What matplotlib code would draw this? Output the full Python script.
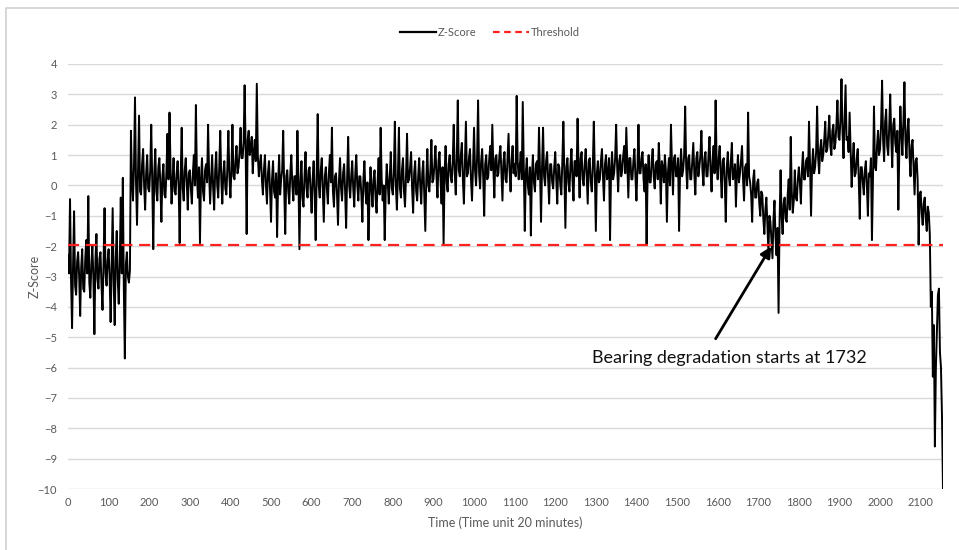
import numpy as np
import matplotlib.pyplot as plt
from matplotlib.lines import Line2D

# z-score, one value every 2.5 time units,
# one list per 100 time units
z_0000 = [-2.3, -2.9, -0.45, -3.1, -4.7, -2.6, -0.85, -3.3, -3.6, -2.5,
          -2.2, -3.0, -4.3, -2.7, -2.1, -3.4, -3.5, -2.4, -1.8, -2.9,
          -0.35, -3.2, -3.7, -2.6, -2.0, -3.0, -4.9, -2.5, -1.6, -3.1,
          -3.4, -2.4, -2.2, -3.3, -4.1, -2.6, -0.75, -2.9, -3.3, -2.5]
z_0100 = [-2.1, -3.0, -4.5, -2.6, -0.75, -3.2, -4.6, -2.4, -1.5, -3.1,
          -3.9, -2.5, -0.4, -2.9, 0.25, -3.4, -5.7, -2.6, -2.2, -3.0,
          -3.2, -2.8, 1.8, 0.2, -0.5, 0.6, 2.9, 0.1, -1.3, 0.5,
          2.3, -0.2, -0.3, 0.7, 1.2, 0.0, -0.8, 0.4, 1.0, -0.1]
z_0200 = [-0.2, 0.5, 2.0, 0.1, -2.1, 0.4, 1.2, -0.2, -0.5, 0.6,
          0.9, 0.0, -1.2, 0.3, 0.7, -0.3, -0.4, 0.5, 1.7, 0.2,
          2.4, 0.6, -0.6, 0.1, 0.9, -0.2, -0.3, 0.4, 0.8, 0.0,
          -1.9, 0.3, 1.9, -0.1, -0.5, 0.5, 0.9, 0.1, -0.8, 0.4]
z_0300 = [0.5, -0.1, -0.6, 0.4, 1.0, 0.0, 2.65, 0.3, -0.4, 0.6,
          -1.9, 0.2, 0.9, -0.2, -0.5, 0.5, 0.7, 0.1, 2.0, 0.4,
          -0.6, 0.2, 1.0, -0.1, -0.8, 0.5, 1.1, 0.0, -0.4, 0.6,
          1.8, 0.2, -0.6, 0.4, 0.8, -0.1, -0.3, 0.6, 1.8, 0.3]
z_0400 = [-0.4, 0.5, 2.0, 0.3, 0.2, 0.8, 1.3, 0.4, 0.6, 1.1,
          1.9, 0.9, 0.9, 1.4, 3.3, 1.2, -1.6, 1.5, 1.8, 1.0,
          1.2, 1.6, 0.4, 1.1, 1.5, 0.8, 3.35, 1.0, 0.3, 0.7,
          1.0, 0.2, -0.3, 0.5, 1.0, 0.0, -0.6, 0.4, 0.8, -0.1]
z_0500 = [-1.2, 0.2, 0.8, -0.2, -0.4, 0.4, -1.7, 0.1, 1.0, -0.3,
          0.2, 0.5, 1.8, -0.1, -1.6, 0.3, 0.5, -0.2, -0.6, 0.4,
          1.0, 0.0, -0.5, 0.3, 0.3, -0.3, 1.8, 0.2, -2.1, 0.1,
          0.8, -0.4, -0.7, 0.3, 1.1, -0.1, -0.4, 0.5, 0.6, -0.2]
z_0600 = [-0.9, 0.2, 0.8, -0.3, -1.8, 0.4, 2.35, 0.0, -0.4, 0.5,
          0.9, -0.2, -1.2, 0.3, 0.6, -0.1, -0.6, 0.4, 1.0, 0.1,
          1.9, -0.2, -0.7, 0.3, 0.4, -0.3, -1.3, 0.2, 0.9, -0.1,
          -0.5, 0.4, 0.7, -0.2, -1.4, 0.3, 1.6, 0.0, -0.4, 0.3]
z_0700 = [0.8, -0.1, -0.7, 0.4, 1.0, 0.0, -0.5, 0.3, 0.3, -0.3,
          -1.2, 0.2, 0.8, -0.2, -0.6, 0.1, -1.8, -0.4, 0.6, -0.1,
          -0.7, 0.2, 0.5, -0.4, -0.9, 0.1, 0.9, -0.3, 1.9, 0.2,
          -0.5, 0.0, -1.8, -0.2, 0.7, 0.1, -0.6, 0.3, 1.1, -0.1]
z_0800 = [-0.3, 0.4, 2.1, 0.0, -0.8, 0.3, 1.9, -0.1, -0.4, 0.5,
          0.9, -0.2, -0.7, 0.3, 1.7, 0.1, 0.2, 0.6, 1.1, -0.1,
          -0.9, 0.4, 0.8, -0.2, -0.5, 0.3, 0.9, 0.0, -0.6, 0.4,
          0.8, -0.3, -1.5, 0.2, 1.2, 0.0, -0.2, 0.5, 1.5, 0.1]
z_0900 = [0.2, 0.7, 1.3, 0.3, -0.4, 0.8, 1.1, 0.2, -0.6, 0.6,
          -1.95, 0.4, 1.3, 0.1, -0.2, 0.7, 1.0, 0.3, 0.1, 0.8,
          2.0, 0.4, -0.3, 0.9, 2.8, 0.5, 0.3, 1.0, 1.4, 0.2,
          -0.6, 0.7, 2.1, 0.3, 0.4, 0.9, 1.2, 0.2, -0.5, 0.6]
z_1000 = [1.9, 0.5, 0.0, 0.9, 2.8, 0.4, -0.1, 0.8, 1.2, 0.3,
          -1.0, 0.7, 1.0, 0.2, 0.3, 0.9, 1.3, 0.5, 2.0, 0.6,
          -0.4, 0.9, 1.0, 0.3, 0.4, 1.0, 1.3, 0.4, -0.5, 0.8,
          1.1, 0.2, 0.1, 0.9, 1.7, 0.5, -0.2, 0.8, 1.3, 0.4]
z_1100 = [0.7, 0.3, 2.95, 0.8, 0.2, 0.6, 1.1, 0.2, 2.75, 0.7,
          -1.5, 0.4, 0.9, 0.0, -0.3, 0.6, -1.65, 0.3, 1.0, 0.1,
          -0.2, 0.7, 0.8, 0.2, 1.9, 0.5, -1.2, 0.6, 1.9, 0.3,
          0.0, 0.8, 1.1, 0.2, -0.6, 0.7, 0.7, 0.1, -0.1, 0.6]
z_1200 = [1.1, 0.2, -0.6, 0.7, 0.6, 0.0, -0.3, 0.8, 2.1, 0.3,
          -1.4, 0.6, 0.9, 0.1, -0.2, 0.7, 1.2, 0.2, -0.5, 0.8,
          0.8, 0.3, 2.2, 0.6, -0.4, 0.9, 1.1, 0.2, 0.0, 0.7,
          1.2, 0.3, -0.6, 0.8, 0.9, 0.1, -0.2, 0.6, 2.1, 0.4]
z_1300 = [-1.5, 0.4, 0.8, 0.1, 0.2, 0.8, 1.2, 0.3, -0.5, 0.7,
          1.0, 0.2, 0.3, 0.9, -1.8, 0.5, 1.1, 0.2, 0.4, 0.9,
          2.0, 0.6, -0.2, 0.8, 1.0, 0.3, 0.5, 1.0, 1.3, 0.4,
          1.9, 0.7, -0.4, 0.9, 0.9, 0.2, 0.2, 0.8, 1.2, 0.3]
z_1400 = [-0.5, 0.6, 2.0, 0.4, 0.4, 0.9, 1.1, 0.2, -0.2, 0.7,
          -1.95, 0.3, 1.0, 0.1, 0.1, 0.8, 1.2, 0.3, -0.1, 0.7,
          0.8, 0.2, 1.4, 0.6, -0.6, 0.8, 0.6, 0.1, 1.0, 0.5,
          -1.2, 0.4, 0.9, 0.0, 2.0, 0.7, -0.3, 0.9, 1.0, 0.3]
z_1500 = [0.3, 0.9, -1.5, 0.5, 1.2, 0.3, 0.5, 1.0, 2.6, 0.6,
          -0.1, 0.9, 1.0, 0.2, 0.2, 0.8, 1.4, 0.4, -0.3, 0.9,
          1.1, 0.3, 0.6, 1.0, 1.8, 0.5, 0.0, 0.9, 1.1, 0.3,
          0.3, 1.0, 1.6, 0.5, -0.2, 0.8, 1.3, 0.4, 2.8, 0.7]
z_1600 = [0.2, 0.9, 1.3, 0.4, -0.4, 0.8, 0.9, 0.1, -1.2, 0.6,
          1.1, 0.3, 0.0, 0.8, 1.4, 0.2, 0.3, 0.7, -0.7, 0.4,
          1.0, 0.1, 0.4, 0.8, 1.3, 0.2, -0.5, 0.6, 0.7, 0.0,
          2.4, 0.3, 0.1, -0.3, -1.2, 0.2, 0.5, -0.4, -0.4, 0.1]
z_1700 = [0.2, -0.6, -1.0, -0.2, -0.3, -1.1, -1.6, -0.8, -0.4, -1.3,
          -2.2, -1.0, -1.2, -1.8, -2.4, -1.1, -0.5, -1.7, -2.3, -1.4,
          -4.2, -1.2, 0.5, -1.0, -1.6, -0.6, -0.4, -1.1, -1.2, -0.3,
          0.2, -0.8, 1.6, -0.2, -0.9, -0.5, 0.5, -0.4, -0.5, 0.2]
z_1800 = [0.6, 0.1, -0.6, 0.5, 1.1, 0.2, 0.2, 0.8, 0.9, 0.3,
          2.1, 0.7, -1.0, 0.6, 1.2, 0.4, 0.6, 1.1, 2.6, 0.9,
          0.4, 1.2, 1.5, 0.8, 1.0, 1.5, 2.1, 1.1, 1.2, 1.7,
          2.3, 1.3, 1.0, 1.8, 2.0, 1.2, 1.4, 2.0, 2.8, 1.6]
z_1900 = [1.5, 2.2, 3.5, 1.8, 0.9, 2.1, 3.3, 1.5, 1.6, 1.1,
          2.4, 1.2, -0.05, 0.8, 1.4, 0.3, 0.4, 0.9, 1.2, 0.2,
          -1.1, 0.6, 0.6, 0.1, -0.3, 0.5, 0.8, 0.0, -1.0, 0.4,
          0.3, 0.9, -1.8, 0.2, 2.6, 0.6, 0.5, 1.3, 1.8, 1.0]
z_2000 = [1.2, 2.0, 3.45, 1.5, 0.8, 2.1, 2.5, 1.3, 1.0, 1.9,
          3.0, 1.6, 0.6, 2.0, 2.2, 1.4, 1.1, 1.8, -0.8, 1.2,
          2.6, 1.7, 1.0, 2.1, 3.4, 1.5, 0.9, 1.8, 2.2, 1.0,
          0.3, 1.3, 1.5, 0.6, -0.3, 0.8, 0.9, 0.2, -1.95, -0.3]
z_2100 = [-0.2, -0.9, -1.3, -0.6, -0.4, -1.1, -1.5, -0.7, -0.9, -1.6,
          -4.0, -3.5, -6.3, -4.6, -8.6, -6.0, -4.8, -3.6, -3.4, -5.5,
          -6.0, -7.6, -10.0]

threshold = -1.96
annotation_text = "Bearing degradation starts at 1732"
start_time = 1732

blocks = [z_0000, z_0100, z_0200, z_0300, z_0400, z_0500, z_0600, z_0700,
          z_0800, z_0900, z_1000, z_1100, z_1200, z_1300, z_1400, z_1500,
          z_1600, z_1700, z_1800, z_1900, z_2000, z_2100]
z = np.concatenate(blocks)
t = np.concatenate([100 * i + 2.5 * np.arange(len(b))
                    for i, b in enumerate(blocks)])

plt.rcParams['font.family'] = ['Lato', 'DejaVu Sans']
grey = '#595959'

fig = plt.figure(figsize=(9.59, 5.5), dpi=100)
ax = fig.add_axes([68 / 959, 61 / 550, 875 / 959, 425 / 550])

ax.plot(t, z, color='black', lw=1.4, label='Z-Score', zorder=3)
ax.axhline(threshold, color='#ff2020', lw=1.6, ls=(0, (5, 3)), zorder=4,
           label='Threshold')

ax.set_xlim(0, t[-1])
ax.set_ylim(-10, 4)
ax.set_xticks(np.arange(0, 2101, 100))
ax.set_yticks(np.arange(-10, 5, 1))
ax.grid(axis='y', color='#d9d9d9', lw=1)
ax.set_axisbelow(True)
for s in ax.spines.values():
    s.set_visible(False)
ax.tick_params(length=0, labelsize=8, labelcolor=grey, pad=6)
ax.tick_params(axis='y', pad=8)

ax.set_xlabel('Time (Time unit 20 minutes)', fontsize=9, color=grey,
              labelpad=6)
ax.set_ylabel('Z-Score', fontsize=9, color=grey)
ax.yaxis.set_label_coords(-0.031, 0.5)

ax.annotate('', xy=(start_time, threshold - 0.05), xytext=(1595, -5.05),
            arrowprops=dict(arrowstyle='-|>', color='black', lw=2,
                            mutation_scale=16, shrinkA=0, shrinkB=0),
            zorder=5)
ax.text(1630, -5.7, annotation_text, fontsize=13, ha='center',
        va='center', color='#111111')

handles = [Line2D([], [], color='black', lw=1.6),
           Line2D([], [], color='#ff2020', lw=1.6, ls=(0, (3, 2)))]
fig.legend(handles, ['Z-Score', 'Threshold'], loc='center',
           bbox_to_anchor=(490 / 959, 1 - 32 / 550), ncol=2, frameon=False,
           fontsize=8, labelcolor=grey, handlelength=3.2, handletextpad=0.2,
           columnspacing=1.5)

# thin frame of the chart area
fig.add_artist(Line2D([6 / 959, 6 / 959, 1], [0, 1 - 8 / 550, 1 - 8 / 550],
                      color='#d0d0d0', lw=1.2, transform=fig.transFigure))

fig.savefig('out.png', dpi=100)
